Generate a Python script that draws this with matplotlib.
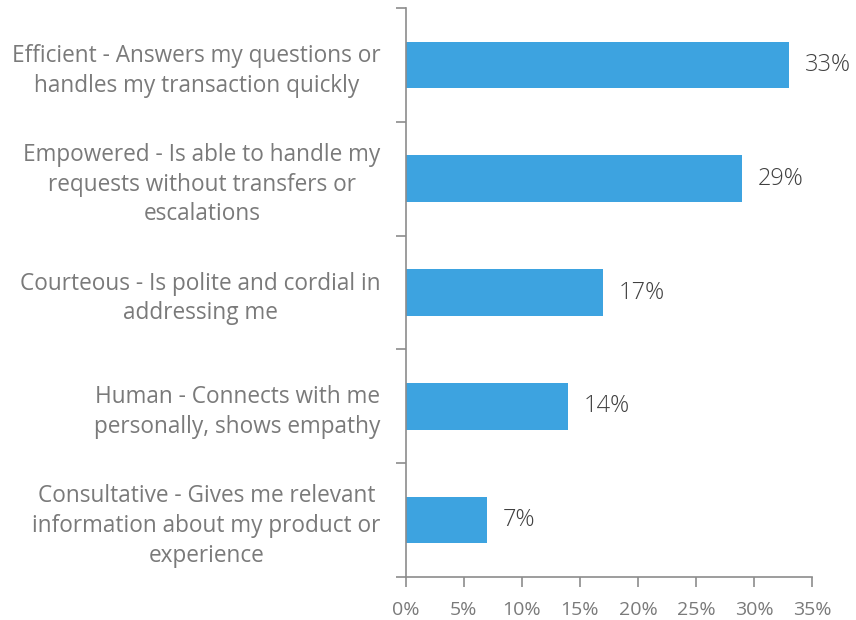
import matplotlib
matplotlib.use("Agg")
import matplotlib.pyplot as plt
from matplotlib.ticker import FixedLocator, PercentFormatter

CATEGORIES = [
    "Efficient - Answers my questions or\nhandles my transaction quickly",
    "Empowered - Is able to handle my\nrequests without transfers or\nescalations",
    "Courteous - Is polite and cordial in\naddressing me",
    "Human - Connects with me\npersonally, shows empathy",
    "Consultative - Gives me relevant\ninformation about my product or\nexperience",
]
SHARES = [33, 29, 17, 14, 7]
X_TICKS = [0, 5, 10, 15, 20, 25, 30, 35]

BAR_COLOR = "#3da3e0"
AXIS_COLOR = "#8c8c8c"
LABEL_COLOR = "#7a7a7a"
VALUE_COLOR = "#404040"

plt.rcParams["font.family"] = ["Open Sans", "DejaVu Sans"]

fig = plt.figure(figsize=(8.56, 6.2), dpi=100)
ax = fig.add_axes([0.474, 0.0694, 0.4746, 0.9176])

n = len(CATEGORIES)
ypos = list(range(n))[::-1]
ax.barh(ypos, SHARES, height=0.41, color=BAR_COLOR)

for y, v in zip(ypos, SHARES):
    ax.text(v + 1.35, y, f"{v}%", va="center", ha="left",
            fontsize=17, color=VALUE_COLOR, fontweight="light")

ax.set_xlim(0, 35)
ax.set_ylim(-0.5, n - 0.5)

ax.xaxis.set_major_locator(FixedLocator(X_TICKS))
ax.xaxis.set_major_formatter(PercentFormatter(decimals=0))
ax.tick_params(axis="x", length=7, width=1.2, color=AXIS_COLOR,
               labelcolor=LABEL_COLOR, labelsize=14, pad=10)

# boundary ticks between categories, names on minor ticks at the centres
ax.yaxis.set_major_locator(FixedLocator([i - 0.5 for i in range(n + 1)]))
ax.yaxis.set_major_formatter(plt.NullFormatter())
ax.yaxis.set_minor_locator(FixedLocator(ypos))
ax.set_yticklabels(CATEGORIES, minor=True)
ax.tick_params(axis="y", which="major", length=7, width=1.2, color=AXIS_COLOR)
ax.tick_params(axis="y", which="minor", length=0, pad=18,
               labelcolor=LABEL_COLOR, labelsize=16.3)
for lbl in ax.get_yticklabels(minor=True):
    lbl.set_multialignment("center")
    lbl.set_linespacing(1.32)

for side in ("top", "right"):
    ax.spines[side].set_visible(False)
for side in ("left", "bottom"):
    ax.spines[side].set_color(AXIS_COLOR)
    ax.spines[side].set_linewidth(1.2)

fig.savefig("out.png", dpi=100, facecolor="white")
